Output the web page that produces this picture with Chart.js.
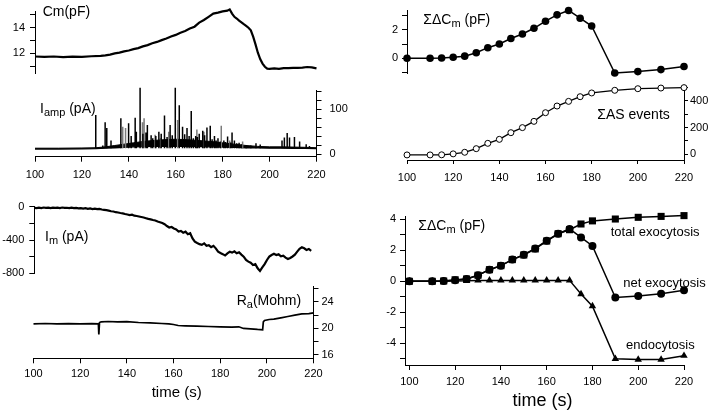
<!DOCTYPE html>
<html><head><meta charset="utf-8">
<script src="https://cdn.jsdelivr.net/npm/chart.js@4.4.1/dist/chart.umd.min.js"></script>
<style>
html,body{margin:0;padding:0;background:#fff;}
body{width:720px;height:412px;position:relative;overflow:hidden;font-family:"Liberation Sans",Arial,Helvetica,sans-serif;}
canvas{position:absolute;left:0;top:0;}
.lbl{position:absolute;white-space:nowrap;color:#000;line-height:1;}
.lbl sub{font-size:11px;vertical-align:-3px;line-height:0;}
</style></head>
<body>
<canvas id="c1" width="720" height="412"></canvas>
<canvas id="c2" width="720" height="412"></canvas>
<canvas id="c3" width="720" height="412"></canvas>
<canvas id="c4" width="720" height="412"></canvas>
<canvas id="c5" width="720" height="412"></canvas>
<canvas id="c6" width="720" height="412"></canvas>
<canvas id="c7" width="720" height="412"></canvas>

<div class="lbl" style="left:42.7px;top:3.6px;font-size:14px">Cm(pF)</div>
<div class="lbl" style="left:40px;top:101.2px;font-size:14px">I<sub>amp</sub> (pA)</div>
<div class="lbl" style="left:45px;top:229.2px;font-size:14px">I<sub>m</sub> (pA)</div>
<div class="lbl" style="left:236.7px;top:292.5px;font-size:14px">R<sub>a</sub>(Mohm)</div>
<div class="lbl" style="left:176.7px;top:384.3px;font-size:15px;transform:translateX(-50%)">time (s)</div>
<div class="lbl" style="left:423.3px;top:12.1px;font-size:14px">ΣΔC<sub>m</sub> (pF)</div>
<div class="lbl" style="left:597.3px;top:106.5px;font-size:14px">ΣAS events</div>
<div class="lbl" style="left:418.3px;top:217.5px;font-size:14px">ΣΔC<sub>m</sub> (pF)</div>
<div class="lbl" style="left:610.7px;top:224.7px;font-size:13px">total exocytosis</div>
<div class="lbl" style="left:623.3px;top:275.5px;font-size:13px">net exocytosis</div>
<div class="lbl" style="left:626px;top:338px;font-size:13px">endocytosis</div>
<div class="lbl" style="left:542.5px;top:390.5px;font-size:18px;transform:translateX(-50%)">time (s)</div>

<script>
// ---------------- DATA ----------------
// Membrane capacitance trace (pF)
const CM_T = [100,104,108,112,116,120,124,128,130,132,134,136,138,140,142,144,146,148,150,152,154,156,158,160,162,164,166,168,170,172,174,176,178,180,182,183,184,185,186,187,188,189,190,191,192,193,194,195,196,197,198,199,200,202,204,206,208,210,212,214,216,218,220];
const CM_V = [11.75,11.72,11.75,11.71,11.74,11.73,11.77,11.80,11.84,11.90,11.99,12.05,12.15,12.22,12.33,12.41,12.54,12.64,12.79,12.89,13.03,13.15,13.31,13.44,13.61,13.74,13.93,14.08,14.40,14.60,14.85,15.10,15.18,15.27,15.33,15.43,15.10,14.85,14.72,14.55,14.42,14.28,14.15,14.00,13.80,13.30,12.70,12.05,11.55,11.20,10.95,10.80,10.78,10.83,10.79,10.84,10.85,10.87,10.86,10.89,10.93,10.90,10.83];

// Amperometric current: background envelope and spikes (pA)
const IAMP_ENV_T  = [100,110,120,126,130,134,138,142,146,150,155,160,165,170,175,180,185,190,195,200,205,210,215,220];
const IAMP_ENV_LO = [11,11,11.5,12,13,14,15,16,16.5,17,17,17,17,16.5,16,15.5,15,14,13.5,13,13,12.5,12.5,12];
const IAMP_ENV_HI = [13,13,13.5,14,16,19,22,25,28,30,32,33,32,30,28,25,22,19,17,16,16,15.5,15,14];
const IAMP_BLACK_T = [125.9,128.9,129.9,130.6,132.4,136.6,139.9,142.7,143.2,144.8,146.0,147.9,151.5,152.8,155.2,157.6,159.8,161.5,162.9,164.8,166.6,168.5,170.0,171.5,173.3,174.7,176.5,178.0,180.5,182.1,184.0,185.0,187.0,194.2,196.0,205.3,206.3,207.5,208.5,210.6,212.8,215.6,217.0,141.0,147.3,149.5,150.2,153.8,156.3,158.5,163.8,165.7,167.5,169.2,172.3,175.5,177.2,179.0,181.2,183.3,186.0,188.0,190.0,192.0];
const IAMP_BLACK_A = [87,19,71,58,30,80,69,81,50,148,45,65,40,50,86,65,148,109,61,58,96,40,45,52,59,63,40,35,30,39,48,30,25,24,21,30,37,47,37,38,28,22,18,40,48,42,35,45,38,42,44,40,35,38,42,33,30,28,27,26,24,22,20,19];
const IAMP_GRAY_T = [137.4,138.6,145.8,146.5,151.2,153.5,157.0,160.8,169.0,172.0,179.4,183.0,188.5];
const IAMP_GRAY_A = [61,58,71,80,43,35,50,76,55,50,63,30,28];

// Membrane current Im (pA), one sample per second starting at 100 s
const IM_T0 = 100;
const IM_V = [
 -15,-18,-12,-16,-10,-14,-12,-17,-11,-14,
 -12,-16,-10,-14,-13,-17,-12,-18,-15,-20,
 -17,-22,-18,-25,-20,-28,-24,-30,-26,-34,
 -38,-42,-48,-55,-58,-66,-70,-76,-80,-88,
 -94,-100,-96,-108,-112,-118,-124,-130,-138,-146,
 -152,-160,-166,-178,-186,-196,-210,-232,-250,-244,
 -262,-272,-298,-290,-312,-300,-330,-318,-380,-420,
 -436,-450,-458,-440,-470,-462,-486,-470,-500,-540,
 -556,-570,-586,-560,-542,-552,-536,-560,-548,-576,
 -600,-640,-660,-672,-700,-690,-740,-772,-730,-690,
 -640,-600,-580,-566,-580,-572,-596,-588,-612,-628,
 -616,-598,-576,-540,-506,-488,-500,-520,-508,-530];

// Access resistance Ra (Mohm)
const RA_T = [100,105,110,115,120,125,127.8,128,128.3,129,132,136,140,145,150,155,158,160,162,165,170,175,180,185,188,190,193,196,198.2,198.5,199,201,203,206,209,212,215,218,220];
const RA_V = [20.7,20.75,20.68,20.72,20.7,20.73,20.7,19.1,20.9,21.0,21.05,20.98,21.02,20.9,20.85,20.75,20.7,20.6,20.45,20.4,20.35,20.3,20.25,20.2,20.25,20.0,19.95,19.85,19.8,21.0,21.2,21.35,21.4,21.6,21.8,22.0,22.2,22.25,22.35];

// Right panels: 5-10 s bins
const BIN_T = [100,110,115,120,125,130,135,140,145,150,155,160,165,170,175,180,190,200,210,220];
const NET_EXO   = [0,0,0.02,0.07,0.15,0.39,0.75,1.01,1.40,1.72,2.12,2.62,3.07,3.38,2.83,2.28,-1.04,-0.94,-0.80,-0.58];
const TOTAL_EXO = [0,0,0.02,0.10,0.15,0.39,0.75,1.01,1.40,1.70,2.09,2.60,3.07,3.33,3.70,3.90,4.02,4.13,4.19,4.24];
const ENDO      = [0,0,0,0.02,0.03,0.06,0.06,0.06,0.06,0.06,0.06,0.06,0.06,0.06,-0.82,-1.60,-5.00,-5.05,-5.05,-4.80];
const AS_EVENTS = [-5,-5,-4,3,15,42,82,112,162,200,247,312,362,397,432,460,480,492,497,500];

// Tick labels
const X_LABELS   = [100,120,140,160,180,200,220];
const CM_LABELS  = [12,14];
const IAMP_LABELS= [0,100];
const IM_LABELS  = [0,-400,-800];
const RA_LABELS  = [16,20,24];
const DCM_LABELS = [0,2];
const AS_LABELS  = [0,200,400];
const DCM2_LABELS= [-4,-2,0,2,4];

// ---------------- HELPERS ----------------
Chart.defaults.font.family = "'Liberation Sans', Arial, Helvetica, sans-serif";
Chart.defaults.font.size = 11;
Chart.defaults.color = '#000';

function pts(T, V){ return T.map((t,i)=>({x:t, y:V[i]})); }
function spikes(T, A, base){
  const out = [];
  T.forEach((t,i)=>{ out.push({x:t,y:base}); out.push({x:t,y:A[i]}); out.push({x:t,y:null}); });
  return out;
}
function labelsOnly(list){
  return function(v){ const r = Math.round(v*1000)/1000; return list.includes(r) ? String(r) : ''; };
}
function axis(o){
  const a = {
    type:'linear', display: o.display !== false, position: o.position,
    min:o.min, max:o.max,
    border:{display:true, color:'#000', width:1},
    grid:{display:true, drawOnChartArea:false, drawTicks:true, tickLength:o.tl||5, color:'#000', lineWidth:1},
    ticks:{stepSize:o.step, includeBounds:false, autoSkip:false, maxRotation:0, minRotation:0,
           padding:o.pad||4, maxTicksLimit:100, callback:labelsOnly(o.labels||[]), color:'#000', font:{size:11}}
  };
  if (o.display !== false && o.size !== undefined){
    a.afterFit = function(s){ if (s.isHorizontal()) s.height = o.size; else s.width = o.size; };
  }
  return a;
}
function panel(id, area, xa, ya, datasets){
  const W=720, H=412;
  const pad = {top:area.top, left:area.left, right:W-area.right, bottom:H-area.bottom};
  if (ya.display !== false){
    if (ya.position === 'left'){ ya.size = pad.left; pad.left = 0; }
    else { ya.size = pad.right; pad.right = 0; }
  }
  if (xa.display !== false){ xa.size = pad.bottom; pad.bottom = 0; }
  xa.position = 'bottom';
  return new Chart(document.getElementById(id), {
    type:'line',
    data:{datasets:datasets},
    options:{
      responsive:false, animation:false, devicePixelRatio:1, events:[],
      layout:{padding:pad},
      plugins:{legend:{display:false}, tooltip:{enabled:false}},
      elements:{line:{tension:0}, point:{radius:0}},
      scales:{x:axis(xa), y:axis(ya)}
    }
  });
}
function trace(data, w){ return {data:data, borderColor:'#000', borderWidth:w, pointRadius:0, fill:false, clip:false, spanGaps:false}; }

// ---------------- PANELS ----------------
// 1. Cm
panel('c1', {left:35, right:316.5, top:11.7, bottom:73.3},
  {display:false, min:100, max:220},
  {position:'left', min:10.44, max:15.25, step:1, labels:CM_LABELS, pad:5},
  [trace(pts(CM_T, CM_V), 2.2)]);

// 2. Iamp
panel('c2', {left:35, right:316.5, top:90, bottom:156.7},
  {min:100, max:220, step:20, labels:X_LABELS, pad:6.5},
  {position:'right', min:-6, max:143, step:20, labels:IAMP_LABELS, pad:8},
  [
    trace(spikes(IAMP_BLACK_T, IAMP_BLACK_A, 13), 1.5),
    Object.assign(trace(spikes(IAMP_GRAY_T, IAMP_GRAY_A, 13), 1.5), {borderColor:'#7a7a7a'}),
    Object.assign(trace(pts(IAMP_ENV_T, IAMP_ENV_HI), 1), {fill:'+1', backgroundColor:'#000'}),
    trace(pts(IAMP_ENV_T, IAMP_ENV_LO), 1.3)
  ]);

// 3. Im
panel('c3', {left:34.3, right:313.5, top:206.7, bottom:273.3},
  {display:false, min:100, max:220},
  {position:'left', min:-800, max:0, step:200, labels:IM_LABELS, pad:5},
  [trace(IM_V.map((v,i)=>({x:IM_T0+i, y:v})), 2.2)]);

// 4. Ra
panel('c4', {left:33.5, right:313.5, top:286.7, bottom:358.3},
  {min:100, max:220, step:20, labels:X_LABELS, pad:4},
  {position:'right', min:15.5, max:26.3, step:2, labels:RA_LABELS, pad:3},
  [trace(pts(RA_T, RA_V), 1.7)]);

// 5. Sum dCm (top right)
panel('c5', {left:407, right:684, top:8.3, bottom:74},
  {display:false, min:100, max:220},
  {position:'left', min:-1.11, max:3.37, step:1, labels:DCM_LABELS, pad:4},
  [Object.assign(trace(pts(BIN_T, NET_EXO), 1.5), {pointRadius:3.8, pointBackgroundColor:'#000', pointBorderColor:'#000', pointBorderWidth:0})]);

// 6. Sum AS events
panel('c6', {left:407, right:684, top:86.7, bottom:160},
  {min:100, max:220, step:20, labels:X_LABELS, pad:7, tl:4},
  {position:'right', min:-43, max:507, step:100, labels:AS_LABELS, pad:2, tl:4},
  [Object.assign(trace(pts(BIN_T, AS_EVENTS), 1.3), {pointRadius:3, pointBackgroundColor:'#fff', pointBorderColor:'#000', pointBorderWidth:1})]);

// 7. total / net / endo
panel('c7', {left:405, right:684, top:216.7, bottom:365},
  {min:98.1, max:220, step:20, labels:X_LABELS, pad:5.5},
  {position:'left', min:-5.4, max:4.17, step:1, labels:DCM2_LABELS, pad:4},
  [
    Object.assign(trace(pts(BIN_T, TOTAL_EXO), 1.5), {pointStyle:'rect', pointRadius:5, pointBackgroundColor:'#000', pointBorderColor:'#000', pointBorderWidth:0}),
    Object.assign(trace(pts(BIN_T, NET_EXO), 1.5), {pointStyle:'circle', pointRadius:4, pointBackgroundColor:'#000', pointBorderColor:'#000', pointBorderWidth:0}),
    Object.assign(trace(pts(BIN_T, ENDO), 1.5), {pointStyle:'triangle', pointRadius:4.3, pointBackgroundColor:'#000', pointBorderColor:'#000', pointBorderWidth:0})
  ]);
</script>
</body></html>
